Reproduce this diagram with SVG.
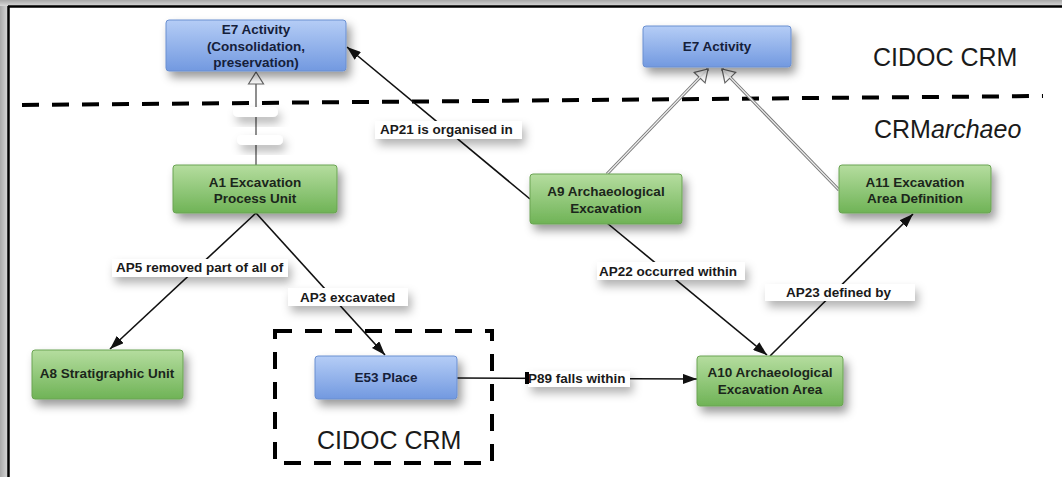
<svg xmlns="http://www.w3.org/2000/svg" width="1062" height="477" viewBox="0 0 1062 477">
<defs>
<linearGradient id="gBlue" x1="0" y1="0" x2="0" y2="1"><stop offset="0" stop-color="#b5cdf6"/><stop offset="1" stop-color="#7299e0"/></linearGradient>
<linearGradient id="gGreen" x1="0" y1="0" x2="0" y2="1"><stop offset="0" stop-color="#b5dd9f"/><stop offset="1" stop-color="#6fb356"/></linearGradient>
<linearGradient id="gFrameL" x1="0" y1="0" x2="1" y2="0"><stop offset="0" stop-color="#a8a8a8"/><stop offset="1" stop-color="#d8d8d8"/></linearGradient>
<linearGradient id="gFrameT" x1="0" y1="0" x2="0" y2="1"><stop offset="0" stop-color="#a8a8a8"/><stop offset="1" stop-color="#d8d8d8"/></linearGradient>
<filter id="sh" x="-30%" y="-40%" width="170%" height="200%"><feDropShadow dx="4" dy="6" stdDeviation="5" flood-color="#000" flood-opacity="0.4"/></filter>
<filter id="shl" x="-20%" y="-60%" width="150%" height="260%"><feDropShadow dx="3" dy="6" stdDeviation="5" flood-color="#000" flood-opacity="0.3"/></filter>
<marker id="arr" viewBox="0 0 14 10" refX="14" refY="5" markerWidth="14" markerHeight="10" orient="auto" markerUnits="userSpaceOnUse"><path d="M0,0 L14,5 L0,10 z" fill="#111"/></marker>
<marker id="gen" viewBox="0 0 14 18" refX="13" refY="9" markerWidth="14" markerHeight="18" orient="auto" markerUnits="userSpaceOnUse"><path d="M1,1.5 L13,9 L1,16.5 z" fill="#fff" stroke="#666" stroke-width="1.2"/></marker>
<style>
.nb{fill:url(#gBlue);stroke:#6b8fd0;stroke-width:1;filter:url(#sh)}
.ng{fill:url(#gGreen);stroke:#6aa352;stroke-width:1;filter:url(#sh)}
.t{font-family:"Liberation Sans",Arial,sans-serif;font-weight:bold;font-size:13.5px;fill:#1b261b;text-anchor:middle}
.tb{fill:#15203a}
.lb{fill:#fff;filter:url(#shl)}
.lt{font-family:"Liberation Sans",Arial,sans-serif;font-weight:bold;font-size:13.5px;fill:#1a1a1a}
.e{fill:none;stroke:#111;stroke-width:1.6}
.big{font-family:"Liberation Sans",Arial,sans-serif;font-size:25px;fill:#1a1a1a}
.dash{fill:none;stroke:#000;stroke-width:4;stroke-dasharray:17 13}
</style>
</defs>
<rect width="1062" height="477" fill="#fff"/>
<g id="frame">
<rect x="0" y="0" width="8" height="477" fill="url(#gFrameL)"/>
<rect x="0" y="0" width="1062" height="6" fill="url(#gFrameT)"/>
<line x1="8.5" y1="6" x2="8.5" y2="477" stroke="#000" stroke-width="2.5"/>
<line x1="8" y1="6.5" x2="1062" y2="6.5" stroke="#000" stroke-width="2.5"/>
</g>
<g id="separators">
<line class="dash" x1="22" y1="105" x2="1043" y2="96"/>
<rect class="dash" x="275" y="331" width="217" height="132"/>
<text class="big" x="873" y="66">CIDOC CRM</text>
<text class="big" x="874" y="138">CRM<tspan font-style="italic">archaeo</tspan></text>
<text class="big" x="317" y="449" font-size="24">CIDOC CRM</text>
</g>
<g id="connectors">
<line x1="256" y1="165" x2="256" y2="72" stroke="#444" stroke-width="1.2" marker-end="url(#gen)"/>
<rect class="lb" x="233" y="107" width="45" height="10" rx="5"/>
<rect class="lb" x="237" y="135" width="46" height="10" rx="5"/>
<line x1="607" y1="174" x2="708" y2="69" stroke="#777" stroke-width="3.2" marker-end="url(#gen)"/>
<line x1="607" y1="174" x2="706" y2="71" stroke="#eee" stroke-width="1.2"/>
<line x1="839" y1="190" x2="722" y2="69" stroke="#777" stroke-width="3.2" marker-end="url(#gen)"/>
<line x1="839" y1="190" x2="724" y2="71" stroke="#eee" stroke-width="1.2"/>
<line class="e" x1="530" y1="199" x2="347" y2="47" marker-end="url(#arr)"/>
<line class="e" x1="256" y1="213" x2="110" y2="349" marker-end="url(#arr)"/>
<line class="e" x1="256" y1="213" x2="385" y2="355" marker-end="url(#arr)"/>
<line class="e" x1="607" y1="223" x2="767" y2="355" marker-end="url(#arr)"/>
<line class="e" x1="770" y1="356" x2="913" y2="214" marker-end="url(#arr)"/>
<line class="e" x1="457" y1="378" x2="697" y2="379" marker-end="url(#arr)"/>
<rect class="lb" x="375" y="121" width="147" height="18"/>
<text class="lt" x="380" y="134">AP21 is organised in</text>
<rect class="lb" x="112" y="259" width="176" height="18"/>
<text class="lt" x="116" y="272">AP5 removed part of all of</text>
<rect class="lb" x="288" y="288" width="120" height="18"/>
<text class="lt" x="300" y="302">AP3 excavated</text>
<rect class="lb" x="597" y="262" width="148" height="18"/>
<text class="lt" x="599" y="276">AP22 occurred within</text>
<rect class="lb" x="765" y="284" width="150" height="17"/>
<text class="lt" x="786" y="297">AP23 defined by</text>
<rect class="lb" x="528" y="371" width="102" height="16"/>
<text class="lt" x="528" y="383">P89 falls within</text>
<line x1="527" y1="372" x2="527" y2="384" stroke="#000" stroke-width="4"/>
</g>
<g id="E7a">
<rect class="nb" x="166" y="20" width="180" height="51" rx="3"/>
<text class="t tb" x="256" y="34">E7 Activity</text>
<text class="t tb" x="256" y="51">(Consolidation,</text>
<text class="t tb" x="256" y="67">preservation)</text>
</g>
<g id="E7b">
<rect class="nb" x="643" y="26" width="148" height="41" rx="3"/>
<text class="t tb" x="717" y="51">E7 Activity</text>
</g>
<g id="A1">
<rect class="ng" x="173" y="165" width="164" height="48" rx="3"/>
<text class="t" x="255" y="187">A1 Excavation</text>
<text class="t" x="255" y="203">Process Unit</text>
</g>
<g id="A9">
<rect class="ng" x="530" y="174" width="152" height="50" rx="3"/>
<text class="t" x="606" y="196">A9 Archaeological</text>
<text class="t" x="606" y="213">Excavation</text>
</g>
<g id="A11">
<rect class="ng" x="839" y="165" width="152" height="48" rx="3"/>
<text class="t" x="915" y="187">A11 Excavation</text>
<text class="t" x="915" y="203">Area Definition</text>
</g>
<g id="A8">
<rect class="ng" x="32" y="350" width="151" height="49" rx="3"/>
<text class="t" x="107" y="378">A8 Stratigraphic Unit</text>
</g>
<g id="E53">
<rect class="nb" x="315" y="356" width="142" height="43" rx="3"/>
<text class="t tb" x="386" y="382" font-size="12.5">E53 Place</text>
</g>
<g id="A10">
<rect class="ng" x="697" y="356" width="146" height="50" rx="3"/>
<text class="t" x="770" y="377">A10 Archaeological</text>
<text class="t" x="770" y="394">Excavation Area</text>
</g>
</svg>
